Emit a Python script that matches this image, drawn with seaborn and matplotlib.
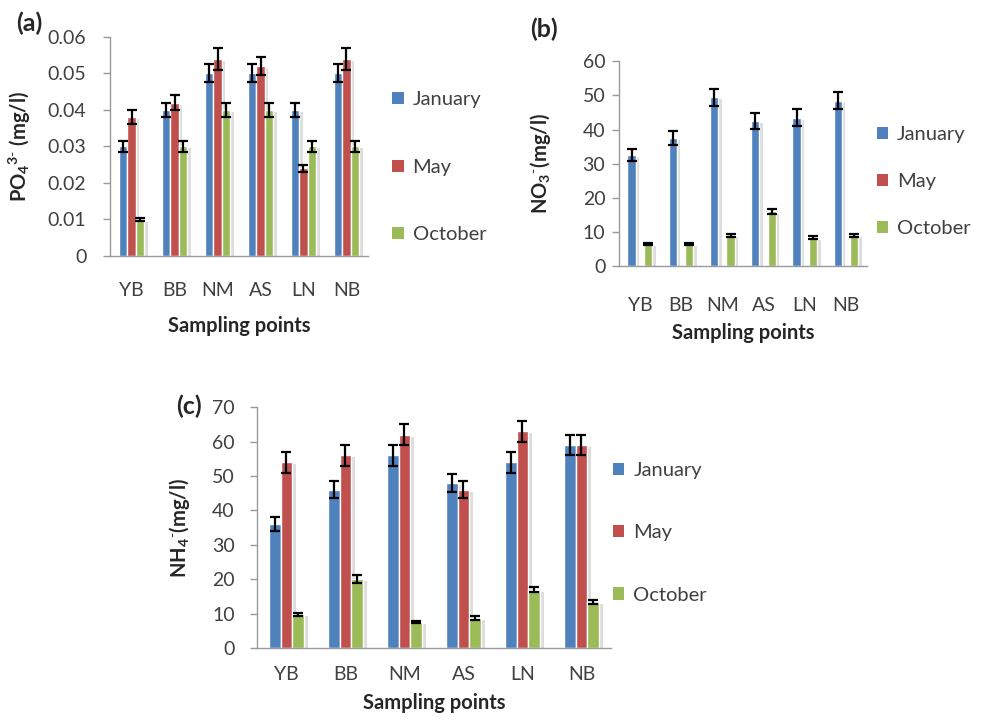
import numpy as np
import pandas as pd
import seaborn as sns
import matplotlib
matplotlib.use("Agg")
import matplotlib.pyplot as plt
import matplotlib.patheffects as pe
from matplotlib.patches import Patch

sites = ["YB", "BB", "NM", "AS", "LN", "NB"]
months = ["January", "May", "October"]
colors = ["#4F81BD", "#C0504D", "#9BBB59"]

# (a) PO4 3-
po4_jan = [0.030, 0.040, 0.050, 0.050, 0.040, 0.050]
po4_may = [0.038, 0.042, 0.054, 0.052, 0.024, 0.054]
po4_oct = [0.010, 0.030, 0.040, 0.040, 0.030, 0.030]
po4_jan_err = [0.0015, 0.002, 0.0025, 0.0025, 0.002, 0.0025]
po4_may_err = [0.002, 0.002, 0.003, 0.0025, 0.001, 0.003]
po4_oct_err = [0.0004, 0.0015, 0.002, 0.002, 0.0015, 0.0015]

# (b) NO3 -  (no May measurements)
no3_jan = [32.5, 37.5, 49.5, 42.5, 43.5, 48.5]
no3_may = [0, 0, 0, 0, 0, 0]
no3_oct = [6.5, 6.5, 9.0, 16.0, 8.3, 9.0]
no3_jan_err = [1.8, 2.0, 2.5, 2.2, 2.5, 2.5]
no3_may_err = [0, 0, 0, 0, 0, 0]
no3_oct_err = [0.3, 0.3, 0.5, 0.8, 0.5, 0.5]

# (c) NH4 -
nh4_jan = [36, 46, 56, 48, 54, 59]
nh4_may = [54, 56, 62, 46, 63, 59]
nh4_oct = [9.8, 20, 7.7, 8.7, 17, 13.3]
nh4_jan_err = [2, 2.5, 3, 2.5, 3, 3]
nh4_may_err = [3, 3, 3, 2.5, 3, 3]
nh4_oct_err = [0.5, 1.2, 0.3, 0.5, 0.8, 0.6]

sns.set_style("white")
plt.rcParams['font.family'] = ['Lato', 'DejaVu Sans']
plt.rcParams['mathtext.fontset'] = 'custom'
plt.rcParams['mathtext.rm'] = 'Lato'
plt.rcParams['mathtext.bf'] = 'Lato:bold'
plt.rcParams['mathtext.default'] = 'bf'

tick_color = "#404040"
spine_color = "#9A9A9A"

fig = plt.figure(figsize=(9.86, 7.21), dpi=100)


def draw_panel(rect, jan, may, octo, errs, ymax, ystep, ylabel, yfmt,
               ylab_x, xlab_y, xpad, ypad, leg_xy, leg_spacing, tag, tag_xy):
    ax = fig.add_axes(rect)
    df = pd.DataFrame({
        "site": sites * 3,
        "Month": [m for m in months for _ in sites],
        "value": list(jan) + list(may) + list(octo),
    })
    sns.barplot(data=df, x="site", y="value", hue="Month", order=sites,
                hue_order=months, palette=colors, width=0.6, gap=0,
                errorbar=None, saturation=1, legend=False, ax=ax)
    for cont, err in zip(ax.containers, errs):
        xs, hs, es = [], [], []
        for bar, e in zip(cont.patches, err):
            bar.set_path_effects([pe.SimplePatchShadow(offset=(2.5, -1.5), shadow_rgbFace="#BDBDBD", alpha=0.5), pe.Normal()])
            if bar.get_height() > 0:
                xs.append(bar.get_x() + bar.get_width() / 2)
                hs.append(bar.get_height())
                es.append(e)
        ax.errorbar(xs, hs, yerr=es, fmt="none", ecolor="black",
                    elinewidth=1.6, capsize=3.5, capthick=1.6, zorder=5)

    ax.set_ylim(0, ymax)
    ax.set_xlim(-0.5, len(sites) - 0.5)
    ticks = np.arange(0, ymax + ystep / 2, ystep)
    ax.set_yticks(ticks)
    ax.set_yticklabels([yfmt(t) for t in ticks])
    ax.set_xticks(np.arange(len(sites)))
    ax.set_xticklabels(sites)
    ax.set_xticks(np.arange(len(sites) + 1) - 0.5, minor=True)
    ax.tick_params(axis="x", which="major", length=0, pad=xpad,
                   labelsize=14, labelcolor=tick_color)
    ax.tick_params(axis="x", which="minor", length=6, width=1, color=spine_color, direction="out")
    ax.tick_params(axis="y", length=5, width=1, color=spine_color, pad=ypad,
                   labelsize=14, labelcolor=tick_color, left=True, direction="out")
    for s in ["top", "right"]:
        ax.spines[s].set_visible(False)
    for s in ["left", "bottom"]:
        ax.spines[s].set_color(spine_color)
        ax.spines[s].set_linewidth(1)

    ax.set_xlabel("Sampling points", fontsize=14.5, fontweight="bold")
    ax.set_ylabel(ylabel, fontsize=14.5, fontweight="bold")
    ax.xaxis.set_label_coords(0.5, xlab_y)
    ax.yaxis.set_label_coords(ylab_x, 0.5)

    handles = [Patch(facecolor=c, edgecolor="none") for c in colors]
    fig.legend(handles, months, loc="center left", bbox_to_anchor=leg_xy,
               frameon=False, fontsize=14.5, labelspacing=leg_spacing,
               handlelength=0.55, handleheight=0.55, handletextpad=0.45,
               borderpad=0, borderaxespad=0, labelcolor=tick_color)
    fig.text(tag_xy[0], tag_xy[1], tag, fontsize=18, fontweight="bold",
             ha="center", va="center")
    return ax


draw_panel([0.1116, 0.645, 0.2616, 0.304],
           po4_jan, po4_may, po4_oct,
           [po4_jan_err, po4_may_err, po4_oct_err],
           0.06, 0.01, r"PO$_4$$^{3\text{-}}$ (mg/l)",
           lambda t: "0" if t == 0 else f"{t:.2f}",
           -0.298, -0.272, 19, 12, (0.398, 0.768), 2.5, "(a)", (0.030, 0.967))

draw_panel([0.628, 0.631, 0.251, 0.284],
           no3_jan, no3_may, no3_oct,
           [no3_jan_err, no3_may_err, no3_oct_err],
           60, 10, r"NO$_3$$^{\text{-}}$(mg/l)",
           lambda t: f"{int(t)}",
           -0.266, -0.278, 22, 5, (0.889, 0.748), 1.5, "(b)", (0.552, 0.960))

draw_panel([0.2606, 0.1012, 0.359, 0.334],
           nh4_jan, nh4_may, nh4_oct,
           [nh4_jan_err, nh4_may_err, nh4_oct_err],
           70, 10, r"NH$_4$$^{\text{-}}$(mg/l)",
           lambda t: f"{int(t)}",
           -0.184, -0.185, 13, 11, (0.622, 0.261), 2.25, "(c)", (0.192, 0.437))

fig.savefig("out.png", dpi=100)
